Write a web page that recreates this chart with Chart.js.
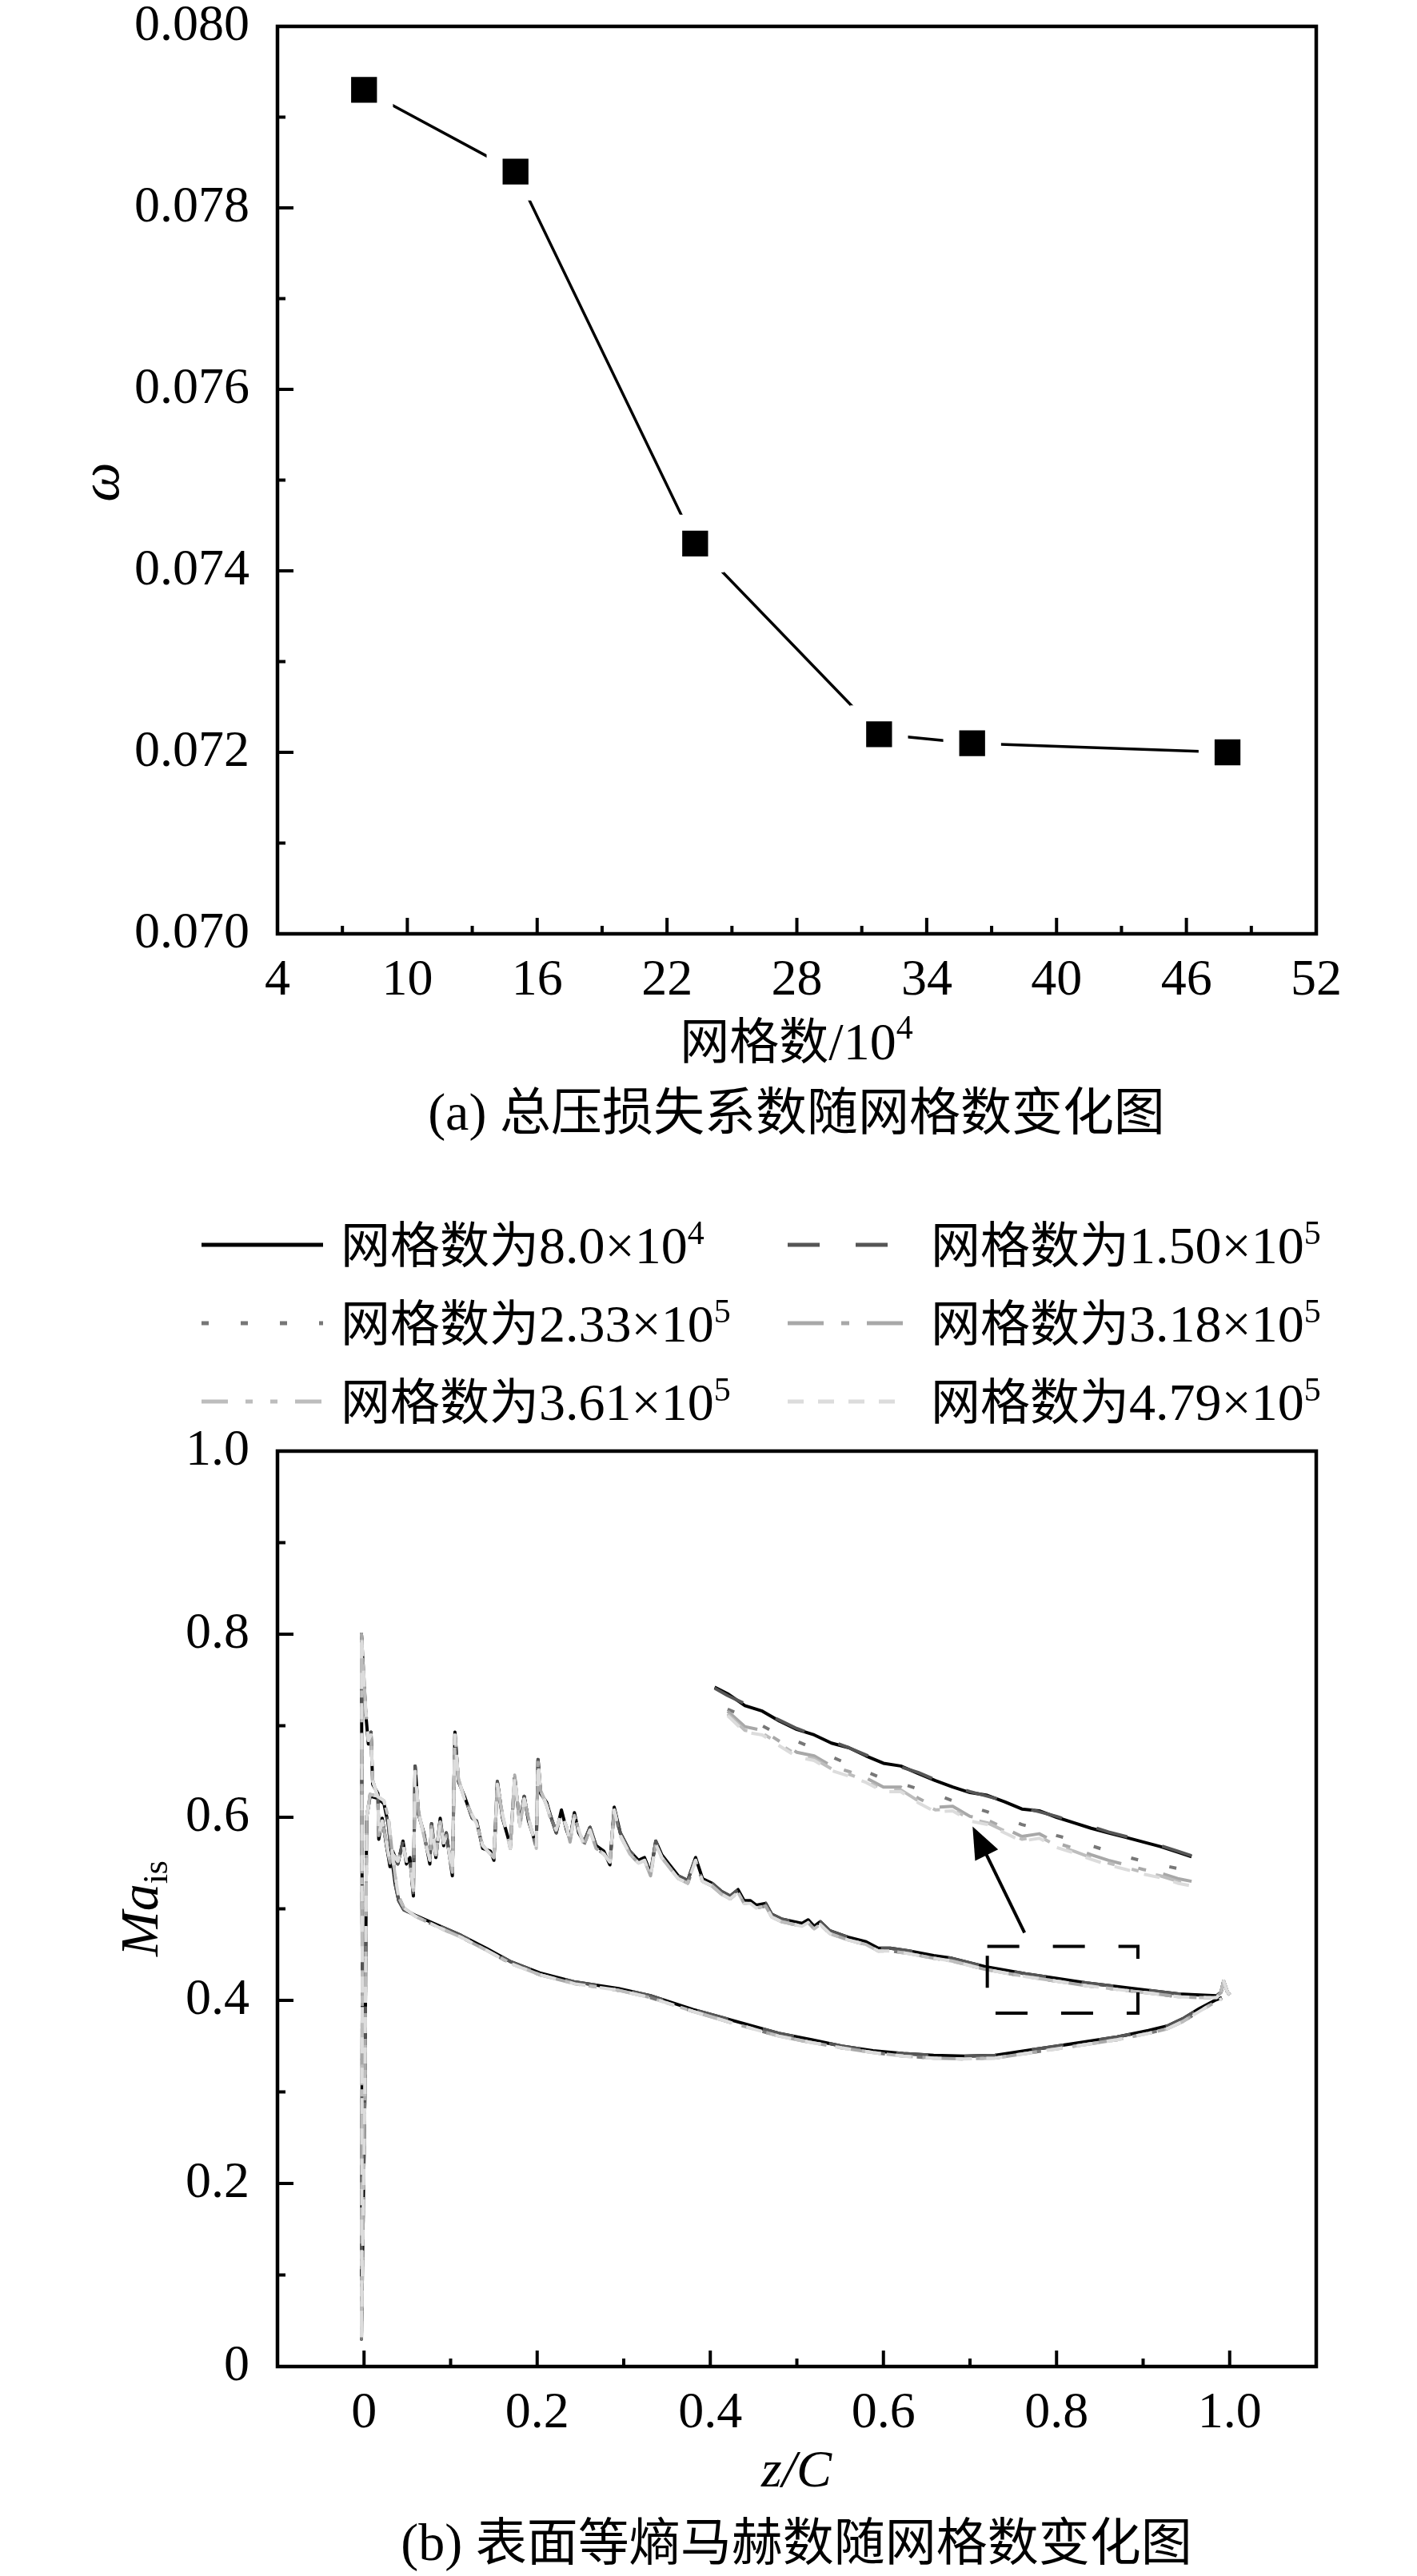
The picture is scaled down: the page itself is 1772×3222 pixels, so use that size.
<!DOCTYPE html>
<html>
<head>
<meta charset="utf-8">
<script src="https://cdn.jsdelivr.net/npm/chart.js@4.4.1/dist/chart.umd.min.js"></script>
<style>
  html, body { margin: 0; padding: 0; background: #fff; }
  body { width: 1772px; height: 3222px; position: relative; overflow: hidden; }
  #wrapA { position: absolute; left: 0; top: 0; width: 1772px; height: 1480px; }
  #wrapB { position: absolute; left: 0; top: 1480px; width: 1772px; height: 1742px; }
</style>
</head>
<body>
<div id="wrapA"><canvas id="chartA" width="1772" height="1480"></canvas></div>
<div id="wrapB"><canvas id="chartB" width="1772" height="1742"></canvas></div>
<script>
// ---------- (a) total pressure loss vs grid count ----------
const gridCountA = [8.0, 15.0, 23.3, 31.8, 36.1, 47.9];
const omegaA = [0.0793, 0.0784, 0.0743, 0.0722, 0.0721, 0.0720];
const xTicksA = [4, 10, 16, 22, 28, 34, 40, 46, 52];
const xMinorA = [7, 13, 19, 25, 31, 37, 43, 49];
const yTicksA = [0.070, 0.072, 0.074, 0.076, 0.078, 0.080];
const yMinorA = [0.071, 0.073, 0.075, 0.077, 0.079];

// ---------- (b) isentropic Mach number on blade surface ----------
const seriesLabels = ['8.0×10^4', '1.50×10^5', '2.33×10^5', '3.18×10^5', '3.61×10^5', '4.79×10^5'];
const seriesColors = ['#000000', '#555555', '#777777', '#a8a8a8', '#bdbdbd', '#dcdcdc'];
const seriesDash = [[], [40, 45], [9, 40], [45, 22, 10, 22], [33, 22, 9, 22, 9, 22], [20, 18]];

// suction side (ascending z/C)
const upperX = [0.002,0.005,0.008,0.010,0.016,0.017,0.021,0.026,0.030,0.033,
  0.039,0.045,0.049,0.053,0.057,0.059,0.063,0.069,0.076,0.078,
  0.083,0.088,0.092,0.095,0.102,0.105,0.109,0.116,0.125,0.130,
  0.137,0.146,0.150,0.154,0.160,0.169,0.174,0.180,0.185,0.190,
  0.199,0.201,0.204,0.211,0.215,0.222,0.228,0.234,0.238,0.243,
  0.248,0.254,0.261,0.268,0.277,0.284,0.289,0.296,0.307,0.317,
  0.324,0.331,0.337,0.344,0.353,0.363,0.374,0.383,0.391,0.402,
  0.413,0.423,0.432,0.439,0.446,0.453,0.464,0.471,0.482,0.506,
  0.513,0.520,0.527,0.538,0.559,0.580,0.594,0.608,0.630,0.658,
  0.679,0.717,0.764,0.800,0.835,0.870,0.906,0.941,0.965,0.985];
const upperYCoarse = [0.713,0.680,0.693,0.636,0.626,0.576,0.599,0.569,0.546,0.563,
  0.549,0.574,0.549,0.556,0.514,0.656,0.603,0.583,0.549,0.593,
  0.556,0.599,0.569,0.583,0.536,0.693,0.639,0.623,0.599,0.596,
  0.566,0.563,0.553,0.639,0.599,0.569,0.643,0.593,0.623,0.596,
  0.569,0.663,0.626,0.616,0.603,0.583,0.608,0.586,0.576,0.605,
  0.583,0.573,0.589,0.569,0.563,0.548,0.611,0.583,0.563,0.553,
  0.556,0.539,0.574,0.559,0.548,0.536,0.531,0.556,0.533,0.528,
  0.519,0.514,0.521,0.509,0.509,0.504,0.506,0.494,0.489,0.484,
  0.488,0.481,0.486,0.476,0.469,0.464,0.457,0.457,0.454,0.449,
  0.446,0.437,0.429,0.424,0.419,0.415,0.411,0.407,0.406,0.405];
const upperYFine = [0.716,0.684,0.690,0.640,0.622,0.580,0.596,0.572,0.550,0.560,
  0.552,0.570,0.552,0.553,0.520,0.650,0.606,0.580,0.553,0.590,
  0.559,0.595,0.572,0.580,0.540,0.690,0.642,0.620,0.602,0.593,
  0.569,0.560,0.556,0.636,0.602,0.566,0.646,0.590,0.620,0.599,
  0.566,0.660,0.629,0.613,0.600,0.586,0.605,0.589,0.573,0.602,
  0.586,0.570,0.586,0.566,0.560,0.551,0.608,0.580,0.560,0.550,
  0.553,0.536,0.571,0.556,0.545,0.533,0.528,0.553,0.530,0.525,
  0.516,0.511,0.518,0.506,0.506,0.501,0.503,0.491,0.486,0.481,
  0.485,0.478,0.483,0.473,0.466,0.461,0.454,0.454,0.451,0.446,
  0.443,0.434,0.426,0.421,0.416,0.412,0.408,0.404,0.403,0.403];

// pressure side (ascending z/C)
const lowerX = [0.003,0.007,0.015,0.023,0.028,0.032,0.036,0.040,0.046,0.059,
  0.088,0.112,0.141,0.170,0.203,0.244,0.294,0.331,0.380,0.430,
  0.479,0.517,0.552,0.588,0.623,0.658,0.694,0.729,0.764,0.800,
  0.835,0.870,0.906,0.928,0.946,0.965,0.983,0.991];
const lowerYCoarse = [0.600,0.623,0.621,0.615,0.592,0.556,0.527,0.509,0.499,0.493,
  0.481,0.471,0.457,0.442,0.430,0.420,0.413,0.405,0.390,0.377,
  0.364,0.357,0.350,0.345,0.342,0.340,0.339,0.340,0.345,0.350,
  0.355,0.360,0.367,0.372,0.380,0.391,0.400,0.403];
const lowerYFine = [0.600,0.625,0.623,0.618,0.600,0.566,0.535,0.513,0.501,0.492,
  0.479,0.469,0.455,0.440,0.428,0.418,0.411,0.403,0.388,0.374,
  0.361,0.354,0.348,0.343,0.339,0.337,0.336,0.337,0.342,0.347,
  0.352,0.357,0.364,0.369,0.377,0.388,0.398,0.402];

// leading edge spike and trailing edge bump
const leX = [-0.003, -0.002, -0.003, 0.001];
const leY = [0.800, 0.420, 0.030, 0.300];
const teX = [1.000, 0.997, 0.993, 0.990];
const teY = [0.406, 0.410, 0.421, 0.409];

// magnified inset of the dashed box
const insetX = [0.405,0.42,0.44,0.46,0.48,0.50,0.52,0.54,0.56,0.58,
  0.60,0.62,0.64,0.66,0.68,0.70,0.72,0.74,0.76,0.78,
  0.80,0.82,0.84,0.86,0.88,0.90,0.92,0.94,0.956];
const insetY80 = [0.742,0.735,0.722,0.716,0.705,0.696,0.690,0.681,0.676,0.667,
  0.659,0.656,0.648,0.640,0.633,0.627,0.624,0.617,0.609,0.607,
  0.600,0.594,0.588,0.583,0.578,0.573,0.568,0.562,0.557];
const insetY150 = [0.741,0.733,0.724,0.715,0.706,0.697,0.690,0.683,0.676,0.668,
  0.661,0.655,0.649,0.641,0.634,0.628,0.623,0.618,0.611,0.606,
  0.601,0.595,0.590,0.584,0.579,0.574,0.569,0.563,0.558];
const insetY233 = [null,0.718,0.710,0.700,0.690,0.683,0.675,0.666,0.658,0.650,
  0.642,0.637,0.631,0.625,0.618,0.612,0.606,0.599,0.592,0.587,
  0.580,0.575,0.569,0.563,0.557,0.552,0.548,0.544,null];
const insetY318 = [null,0.716,0.699,0.695,0.683,0.671,0.667,0.656,0.650,0.643,
  0.633,0.633,0.621,0.611,0.612,0.601,0.597,0.588,0.579,0.582,
  0.572,0.566,0.559,0.553,0.548,0.543,0.539,0.533,0.530];
const insetY361 = [null,0.713,0.695,0.692,0.680,0.668,0.664,0.653,0.647,0.640,
  0.630,0.630,0.618,0.608,0.609,0.598,0.594,0.585,0.576,0.579,
  0.569,0.563,0.556,0.550,0.545,0.540,0.536,0.530,0.527];
const insetY479 = [null,0.711,0.693,0.690,0.678,0.666,0.662,0.651,0.645,0.638,
  0.628,0.628,0.616,0.606,0.607,0.596,0.592,0.583,0.574,0.577,
  0.567,0.561,0.554,0.548,0.543,0.538,0.534,0.528,0.525];

const boxX = [0.720, 0.894];
const boxY = [0.386, 0.459];
const arrowFrom = [0.763, 0.474];
const arrowTo = [0.703, 0.590];

const xTicksB = [0, 0.2, 0.4, 0.6, 0.8, 1.0];
const xMinorB = [0.1, 0.3, 0.5, 0.7, 0.9];
const yTicksB = [0, 0.2, 0.4, 0.6, 0.8, 1.0];
const yMinorB = [0.1, 0.3, 0.5, 0.7, 0.9];

const SERIF = "'Liberation Serif', 'Times New Roman', serif";
const CJK = "'Noto Sans CJK SC', 'Noto Sans CJK JP', sans-serif";

function drawRich(ctx, runs, cx, baseline) {
  let total = 0;
  runs.forEach(r => { ctx.font = r.font; r.w = ctx.measureText(r.text).width; total += r.w; });
  let x = cx - total / 2;
  ctx.textAlign = 'left';
  ctx.textBaseline = 'alphabetic';
  runs.forEach(r => { ctx.font = r.font; ctx.fillText(r.text, x, baseline + (r.dy || 0)); x += r.w; });
}

function frameTicks(xMajor, xMinor, yMajor, yMinor) {
  return {
    id: 'frameTicks',
    afterDraw(chart) {
      const { ctx, chartArea: a } = chart;
      const xs = chart.scales.x, ys = chart.scales.y;
      ctx.save();
      ctx.strokeStyle = '#000';
      ctx.lineWidth = 4;
      ctx.beginPath();
      xMajor.forEach(v => { const p = xs.getPixelForValue(v); ctx.moveTo(p, a.bottom); ctx.lineTo(p, a.bottom - 20); });
      xMinor.forEach(v => { const p = xs.getPixelForValue(v); ctx.moveTo(p, a.bottom); ctx.lineTo(p, a.bottom - 10); });
      yMajor.forEach(v => { const p = ys.getPixelForValue(v); ctx.moveTo(a.left, p); ctx.lineTo(a.left + 20, p); });
      yMinor.forEach(v => { const p = ys.getPixelForValue(v); ctx.moveTo(a.left, p); ctx.lineTo(a.left + 10, p); });
      ctx.stroke();
      ctx.lineWidth = 4.5;
      ctx.strokeRect(a.left, a.top, a.right - a.left, a.bottom - a.top);
      ctx.restore();
    }
  };
}

function scaleOpts(min, max, ticks, fmt, isX, size) {
  return {
    type: 'linear', min, max,
    afterBuildTicks: s => { s.ticks = ticks.map(v => ({ value: v })); },
    afterFit: s => {
      // fixed box size, and no extra room for overhanging end labels
      if (isX) { s.height = size; s.paddingLeft = 0; s.paddingRight = 0; }
      else { s.width = size; s.paddingTop = 0; s.paddingBottom = 0; }
    },
    grid: { display: false },
    border: { display: false },
    ticks: {
      font: { family: SERIF, size: 64 }, color: '#000',
      padding: isX ? 13 : 27, maxRotation: 0, autoSkip: false,
      callback: fmt
    }
  };
}

// ---------- chart (a) ----------
const textA = {
  id: 'textA',
  afterDraw(chart) {
    const ctx = chart.ctx;
    ctx.save();
    ctx.fillStyle = '#000';
    drawRich(ctx, [
      { text: '网格数', font: '62px ' + CJK },
      { text: '/10', font: '66px ' + SERIF },
      { text: '4', font: '42px ' + SERIF, dy: -26 }
    ], 996, 1325);
    drawRich(ctx, [
      { text: '(a) ', font: '66px ' + SERIF },
      { text: '总压损失系数随网格数变化图', font: '64px ' + CJK }
    ], 996, 1413);
    ctx.translate(148, 603);
    ctx.rotate(-Math.PI / 2);
    drawRich(ctx, [{ text: 'ω', font: 'italic 70px ' + SERIF }], 0, 0);
    ctx.restore();
  }
};

new Chart(document.getElementById('chartA'), {
  type: 'line',
  data: {
    datasets: [{
      data: gridCountA.map((x, i) => ({ x, y: omegaA[i] })),
      borderColor: '#000', borderWidth: 3.5, tension: 0,
      pointStyle: 'rect', pointRadius: 37,
      pointBackgroundColor: '#000', pointBorderColor: '#fff', pointBorderWidth: 20
    }]
  },
  options: {
    responsive: false, devicePixelRatio: 1, animation: false, events: [],
    layout: { autoPadding: false, padding: { left: 0, right: 126, top: 33, bottom: 0 } },
    plugins: { legend: { display: false }, tooltip: { enabled: false } },
    scales: {
      x: scaleOpts(4, 52, xTicksA, v => String(v), true, 312),
      y: scaleOpts(0.070, 0.080, yTicksA, v => v.toFixed(3), false, 347)
    }
  },
  plugins: [frameTicks(xTicksA, xMinorA, yTicksA, yMinorA), textA]
});

// ---------- chart (b) ----------
function surfacePoints(upperY, lowerY) {
  const pts = [];
  teX.forEach((x, i) => pts.push({ x, y: teY[i] }));
  for (let i = upperX.length - 1; i >= 0; i--) pts.push({ x: upperX[i], y: upperY[i] });
  leX.forEach((x, i) => pts.push({ x, y: leY[i] }));
  lowerX.forEach((x, i) => pts.push({ x, y: lowerY[i] }));
  return pts;
}
const mainUpper = [upperYCoarse, upperYCoarse, upperYFine, upperYFine, upperYFine, upperYFine];
const mainLower = [lowerYCoarse, lowerYCoarse, lowerYFine, lowerYFine, lowerYFine, lowerYFine];
const insetYs = [insetY80, insetY150, insetY233, insetY318, insetY361, insetY479];

const datasetsB = [];
seriesLabels.forEach((lab, s) => {
  const style = {
    borderColor: seriesColors[s], borderDash: seriesDash[s], borderWidth: 4,
    pointRadius: 0, tension: 0, order: 5 - s, borderJoinStyle: 'round'
  };
  datasetsB.push(Object.assign({ label: '网格数为' + lab, data: surfacePoints(mainUpper[s], mainLower[s]) }, style));
  datasetsB.push(Object.assign({ label: 'inset ' + lab, data: insetX.map((x, i) => ({ x, y: insetYs[s][i] })) }, style));
});

const annotB = {
  id: 'annotB',
  afterDatasetsDraw(chart) {
    const ctx = chart.ctx, xs = chart.scales.x, ys = chart.scales.y;
    ctx.save();
    ctx.strokeStyle = '#000';
    ctx.fillStyle = '#000';
    ctx.lineWidth = 4;
    ctx.setLineDash([40, 42]);
    const x0 = xs.getPixelForValue(boxX[0]), x1 = xs.getPixelForValue(boxX[1]);
    const y0 = ys.getPixelForValue(boxY[1]), y1 = ys.getPixelForValue(boxY[0]);
    ctx.strokeRect(x0, y0, x1 - x0, y1 - y0);
    ctx.setLineDash([]);
    const ax = xs.getPixelForValue(arrowFrom[0]), ay = ys.getPixelForValue(arrowFrom[1]);
    const bx = xs.getPixelForValue(arrowTo[0]), by = ys.getPixelForValue(arrowTo[1]);
    const ang = Math.atan2(by - ay, bx - ax);
    const hl = 40, hw = 16;
    ctx.beginPath();
    ctx.moveTo(ax, ay);
    ctx.lineTo(bx - Math.cos(ang) * hl * 0.8, by - Math.sin(ang) * hl * 0.8);
    ctx.stroke();
    ctx.beginPath();
    ctx.moveTo(bx, by);
    ctx.lineTo(bx - Math.cos(ang) * hl - Math.sin(ang) * hw, by - Math.sin(ang) * hl + Math.cos(ang) * hw);
    ctx.lineTo(bx - Math.cos(ang) * hl + Math.sin(ang) * hw, by - Math.sin(ang) * hl - Math.cos(ang) * hw);
    ctx.closePath();
    ctx.fill();
    ctx.restore();
  }
};

const textB = {
  id: 'textB',
  afterDraw(chart) {
    const ctx = chart.ctx;
    ctx.save();
    ctx.fillStyle = '#000';
    // legend, two columns
    const rowY = [77, 175, 273];
    const colLine = [[252, 404], [985, 1137]];
    const colText = [426, 1164];
    seriesLabels.forEach((lab, s) => {
      const r = Math.floor(s / 2), c = s % 2;
      ctx.save();
      ctx.strokeStyle = seriesColors[s];
      ctx.lineWidth = 5;
      ctx.setLineDash(seriesDash[s]);
      ctx.beginPath();
      ctx.moveTo(colLine[c][0], rowY[r]);
      ctx.lineTo(colLine[c][1], rowY[r]);
      ctx.stroke();
      ctx.restore();
      const parts = lab.split('^');
      const runs = [
        { text: '网格数为', font: '62px ' + CJK },
        { text: parts[0], font: '66px ' + SERIF },
        { text: parts[1], font: '42px ' + SERIF, dy: -24 }
      ];
      let w = 0;
      runs.forEach(q => { ctx.font = q.font; w += ctx.measureText(q.text).width; });
      drawRich(ctx, runs, colText[c] + w / 2, rowY[r] + 23);
    });
    drawRich(ctx, [{ text: 'z/C', font: 'italic 66px ' + SERIF }], 996, 1630);
    drawRich(ctx, [
      { text: '(b) ', font: '66px ' + SERIF },
      { text: '表面等熵马赫数随网格数变化图', font: '64px ' + CJK }
    ], 996, 1722);
    ctx.translate(197, 907);
    ctx.rotate(-Math.PI / 2);
    drawRich(ctx, [
      { text: 'Ma', font: 'italic 68px ' + SERIF },
      { text: 'is', font: '44px ' + SERIF, dy: 12 }
    ], 0, 0);
    ctx.restore();
  }
};

new Chart(document.getElementById('chartB'), {
  type: 'line',
  data: { datasets: datasetsB },
  options: {
    responsive: false, devicePixelRatio: 1, animation: false, events: [],
    layout: { autoPadding: false, padding: { left: 0, right: 126, top: 335, bottom: 0 } },
    plugins: { legend: { display: false }, tooltip: { enabled: false } },
    scales: {
      x: scaleOpts(-0.1, 1.1, xTicksB, v => (v === 0 ? '0' : v.toFixed(1)), true, 262),
      y: scaleOpts(0, 1.0, yTicksB, v => (v === 0 ? '0' : v.toFixed(1)), false, 347)
    }
  },
  plugins: [frameTicks(xTicksB, xMinorB, yTicksB, yMinorB), annotB, textB]
});
</script>
</body>
</html>
